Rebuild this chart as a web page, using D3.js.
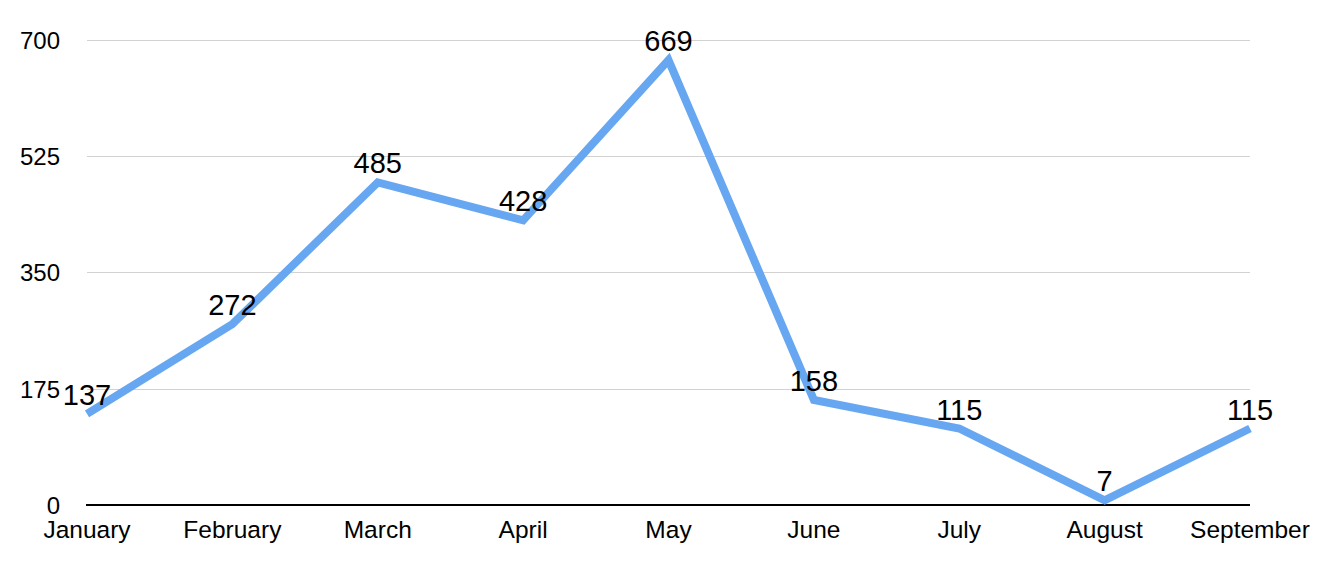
<!DOCTYPE html>
<html>
<head>
<meta charset="utf-8">
<script src="https://cdn.jsdelivr.net/npm/d3@7"></script>
<style>
  body { margin: 0; background: #fff; }
  text { font-family: "Liberation Sans", Arial, Helvetica, sans-serif; }
</style>
</head>
<body>
<script>
const months = ["January", "February", "March", "April", "May", "June", "July", "August", "September"];
const values = [137, 272, 485, 428, 669, 158, 115, 7, 115];
const yTicks = [0, 175, 350, 525, 700];

const width = 1328, height = 562;
const margin = {top: 39.5, right: 78, bottom: 57, left: 87};

const svg = d3.select("body").append("svg")
    .attr("width", width)
    .attr("height", height);

const x = d3.scalePoint(months, [margin.left, width - margin.right]);
const y = d3.scaleLinear([0, 700], [height - margin.bottom, margin.top]);

// gridlines
svg.append("g")
    .attr("stroke", "#d2d2d2")
    .attr("stroke-width", 1)
  .selectAll("line")
  .data(yTicks.filter(d => d > 0))
  .join("line")
    .attr("x1", margin.left)
    .attr("x2", width - margin.right)
    .attr("y1", d => Math.round(y(d)) + 0.5)
    .attr("y2", d => Math.round(y(d)) + 0.5);

// y tick labels
svg.append("g")
    .attr("font-size", 24)
    .attr("text-anchor", "end")
  .selectAll("text")
  .data(yTicks)
  .join("text")
    .attr("x", 60)
    .attr("y", d => y(d))
    .attr("dy", "0.38em")
    .text(d => d);

// baseline
svg.append("line")
    .attr("x1", margin.left - 1)
    .attr("x2", width - margin.right)
    .attr("y1", y(0))
    .attr("y2", y(0))
    .attr("stroke", "#000")
    .attr("stroke-width", 2);

// month labels
svg.append("g")
    .attr("font-size", 24.5)
    .attr("text-anchor", "middle")
  .selectAll("text")
  .data(months)
  .join("text")
    .attr("x", d => x(d))
    .attr("y", y(0) + 33)
    .text(d => d);

// line
svg.append("path")
    .datum(values)
    .attr("fill", "none")
    .attr("stroke", "#67a7f1")
    .attr("stroke-width", 8)
    .attr("stroke-linejoin", "miter")
    .attr("d", d3.line()
        .x((d, i) => x(months[i]))
        .y(d => y(d)));

// value labels (drawn over the line)
svg.append("g")
    .attr("font-size", 29)
    .attr("text-anchor", "middle")
  .selectAll("text")
  .data(values)
  .join("text")
    .attr("x", (d, i) => x(months[i]))
    .attr("y", d => y(d) - 9)
    .text(d => d);
</script>
</body>
</html>
